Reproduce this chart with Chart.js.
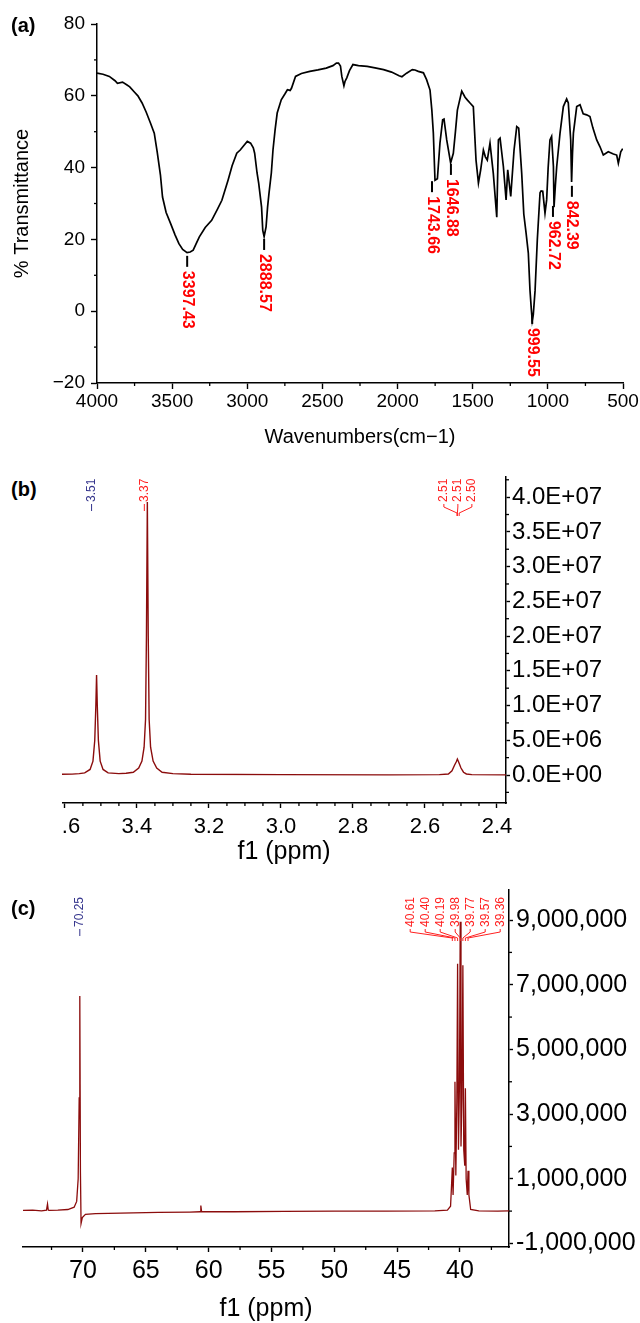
<!DOCTYPE html>
<html>
<head>
<meta charset="utf-8">
<script src="https://cdn.jsdelivr.net/npm/chart.js@4.4.1/dist/chart.umd.min.js"></script>
<style>
  html, body { margin: 0; padding: 0; background: #fff; overflow: hidden; }
  #page { position: relative; width: 640px; height: 1323px; font-family: "Liberation Sans", Arial, sans-serif; }
  canvas { position: absolute; }
  .tag { position: absolute; font-weight: bold; font-size: 20px; line-height: 1; color: #000; }
</style>
</head>
<body>
<div id="page">
  <canvas id="irChart" width="640" height="460" style="left:0;top:0"></canvas>
  <canvas id="hChart" width="578" height="410" style="left:62px;top:460px"></canvas>
  <canvas id="cChart" width="640" height="453" style="left:0;top:870px"></canvas>
  <div class="tag" style="left:11px;top:15px">(a)</div>
  <div class="tag" style="left:11px;top:479px">(b)</div>
  <div class="tag" style="left:11px;top:898px">(c)</div>
</div>
<script>
// ---- Panel (a): FTIR spectrum ----
const irWavenumber = [
  4000, 3960, 3918, 3880, 3864, 3830, 3800, 3782, 3750, 3728,
  3700, 3673, 3645, 3619, 3600, 3578, 3564, 3540, 3510, 3480,
  3455, 3430, 3401, 3380, 3360, 3340, 3319, 3280, 3237, 3200,
  3169, 3128, 3101, 3070, 3047, 3020, 3000, 2978, 2960, 2951,
  2935, 2924, 2905, 2897, 2888, 2875, 2865, 2856, 2840, 2829,
  2815, 2801, 2774, 2750, 2733, 2715, 2706, 2679, 2640, 2584,
  2530, 2475, 2430, 2407, 2393, 2380, 2371, 2357, 2350, 2338,
  2320, 2297, 2260, 2202, 2150, 2093, 2040, 1990, 1971, 1940,
  1902, 1884, 1862, 1828, 1807, 1784, 1772, 1762, 1751, 1735,
  1718, 1700, 1691, 1673, 1647, 1629, 1615, 1602, 1573, 1551,
  1535, 1518, 1496, 1478, 1462, 1447, 1429, 1416, 1403, 1385,
  1363, 1340, 1329, 1318, 1296, 1278, 1267, 1247, 1225, 1207,
  1194, 1174, 1160, 1145, 1130, 1119, 1110, 1104, 1097, 1085,
  1070, 1052, 1045, 1034, 1019, 1008, 998, 986, 975, 963,
  959, 950, 941, 919, 897, 875, 864, 848, 842, 836,
  830, 808, 786, 765, 742, 720, 700, 675, 653, 631,
  598, 564, 542, 531, 515, 502
];
const irTransmittance = [
  66.3, 66.0, 65.4, 64.2, 63.5, 63.8, 63.0, 62.5, 61.0, 60.0,
  58.0, 55.5, 52.5, 49.6, 44.5, 38.0, 31.8, 27.5, 24.4, 21.2,
  18.8, 17.2, 16.3, 16.5, 17.0, 18.8, 20.7, 23.3, 25.3, 28.3,
  30.9, 36.5, 40.5, 44.0, 44.9, 46.3, 47.3, 46.8, 45.5, 44.0,
  38.5, 35.6, 29.0, 22.5, 20.8, 23.5, 29.0, 32.7, 38.5, 44.9,
  50.5, 55.2, 58.9, 60.5, 61.7, 61.5, 62.1, 65.4, 66.2, 66.8,
  67.2, 67.7, 68.4, 69.1, 69.1, 68.3, 65.4, 62.8, 64.0, 65.0,
  67.0, 68.7, 68.4, 68.2, 67.8, 67.3, 66.6, 65.6, 65.3, 66.3,
  67.3, 67.2, 66.8, 66.4, 64.5, 61.6, 56.0, 49.6, 36.5, 36.9,
  46.8, 53.3, 53.5, 47.7, 41.3, 44.0, 50.0, 56.0, 61.3, 59.6,
  58.8, 58.0, 57.0, 42.1, 35.7, 39.4, 44.9, 43.0, 42.1, 46.8,
  38.4, 26.2, 47.7, 48.2, 40.3, 31.0, 39.4, 32.0, 44.9, 51.4,
  51.0, 38.4, 27.0, 21.8, 16.2, 5.9, 0.5, -2.6, -1.0, 5.8,
  20.0, 33.0, 33.5, 33.4, 27.3, 31.0, 40.0, 47.7, 48.7, 40.3,
  29.0, 35.0, 40.3, 49.6, 57.0, 59.1, 58.0, 47.7, 36.0, 44.0,
  49.6, 57.0, 57.5, 55.0, 54.7, 54.2, 51.0, 47.7, 45.8, 43.5,
  44.4, 43.8, 43.5, 41.2, 44.4, 45.3
];
// peak labels: text, and where the marker sits on the curve
const irPeakText = ["3397.43", "2888.57", "1743.66", "1646.88", "999.55", "962.72", "842.39"];
const irPeakWavenumber = [3400, 2888, 1771, 1645, 1104, 966, 840];
const irPeakTransmittance = [15.7, 20.4, 36.5, 41.3, -0.2, 29.6, 35.2];
const irXTicks = [4000, 3500, 3000, 2500, 2000, 1500, 1000, 500];
const irXMinor = [3750, 3250, 2750, 2250, 1750, 1250, 750];
const irYTicks = [80, 60, 40, 20, 0, -20];
const irYMinor = [70, 50, 30, 10, -10];

// ---- Panel (b): 1H NMR ----
const hPpm = [
  3.608, 3.58, 3.56, 3.545, 3.53, 3.522, 3.517, 3.514, 3.512, 3.510,
  3.507, 3.502, 3.494, 3.48, 3.45, 3.43, 3.41, 3.395, 3.386, 3.38,
  3.376, 3.3735, 3.371, 3.3685, 3.366, 3.362, 3.355, 3.345, 3.33, 3.30,
  3.25, 3.0, 2.7, 2.56, 2.535, 2.525, 2.518, 2.513, 2.51, 2.506,
  2.5, 2.493, 2.485, 2.47, 2.375
];
const hIntensity = [
  1e5, 1.2e5, 2e5, 3e5, 8e5, 2e6, 5e6, 1e7, 1.44e7, 1e7,
  5e6, 2e6, 8e5, 3e5, 2e5, 2.5e5, 4e5, 1e6, 2e6, 4e6,
  8e6, 2e7, 3.93e7, 2e7, 8e6, 4e6, 2e6, 1e6, 4e5, 2e5,
  1e5, 5e4, 2e4, 5e4, 1.5e5, 6e5, 1.4e6, 1.9e6, 2.3e6, 1.8e6,
  1e6, 4e5, 1.5e5, 5e4, 2e4
];
const hLabelText = [["3.51"], ["3.37"], ["2.51", "2.51", "2.50"]];
const hLabelPpm = [[3.512], [3.371], [2.511, 2.510, 2.505]];
const hXTicks = [3.6, 3.4, 3.2, 3.0, 2.8, 2.6, 2.4];
const hXMinor = [3.55, 3.5, 3.45, 3.35, 3.3, 3.25, 3.15, 3.1, 3.05, 2.95, 2.9, 2.85,
                 2.75, 2.7, 2.65, 2.55, 2.5, 2.45];
const hYTicks = [0, 5e6, 1e7, 1.5e7, 2e7, 2.5e7, 3e7, 3.5e7, 4e7];
const hYMinor = [-2.5e6, 2.5e6, 7.5e6, 1.25e7, 1.75e7, 2.25e7, 2.75e7, 3.25e7, 3.75e7, 4.25e7];

// ---- Panel (c): 13C NMR ----
const cPpm = [
  74.77, 74.0, 73.3, 72.9, 72.82, 72.76, 72.7, 72.0, 71.2, 70.7,
  70.5, 70.38, 70.3, 70.25, 70.2, 70.15, 70.05, 69.8, 69.0, 67.0,
  64.0, 61.5, 60.68, 60.62, 60.56, 58.0, 54.0, 50.0, 46.0, 42.0,
  41.0, 40.75, 40.66, 40.61, 40.55, 40.46, 40.40, 40.33, 40.25, 40.19,
  40.12, 40.04, 39.98, 39.92, 39.84, 39.77, 39.70, 39.62, 39.57, 39.51,
  39.42, 39.36, 39.29, 39.15, 38.5, 37.0, 36.1
];
const cIntensity = [
  2e4, 3e4, 1e4, 3e4, 2.2e5, 3e4, 2e4, 3e4, 5e4, 1.2e5,
  3e5, 1e6, 3.5e6, 6.65e6, 1.2e6, -3.8e5, -2e5, -1e5, -8e4, -6e4,
  -4e4, -3e4, -2e4, 1.7e5, -2e4, -2e4, -1e4, 0, 0, 1e4,
  3e4, 1.5e5, 9e5, 1.35e6, 5e5, 1.8e6, 4e6, 1.1e6, 3.4e6, 7.65e6,
  1.9e6, 4e6, 8.95e6, 2e6, 3.5e6, 7.6e6, 1.9e6, 1.4e6, 3.8e6, 1e6,
  5e5, 1.25e6, 5e5, 5e4, 1e4, 0, 1e4
];
const cLabelText = [["70.25"], ["40.61", "40.40", "40.19", "39.98", "39.77", "39.57", "39.36"]];
const cLabelPpm = [[70.25], [40.61, 40.40, 40.19, 39.98, 39.77, 39.57, 39.36]];
const cXTicks = [70, 65, 60, 55, 50, 45, 40];
const cXMinor = [72.5, 67.5, 62.5, 57.5, 52.5, 47.5, 42.5, 37.5];
const cYTicks = [-1e6, 1e6, 3e6, 5e6, 7e6, 9e6];
const cYMinor = [0, 2e6, 4e6, 6e6, 8e6];

const FONT = '"Liberation Sans", Arial, sans-serif';
const RED = "#ff2020";
const BLUE = "#34348c";
const SPEC = "#8b0c0c";

function toPoints(xs, ys) {
  return xs.map((x, i) => ({ x: x, y: ys[i] }));
}

// 4.0E+07 style labels
function fmtE(v) {
  if (v === 0) return "0.0E+00";
  const e = Math.floor(Math.log10(Math.abs(v)) + 1e-9);
  const m = v / Math.pow(10, e);
  return m.toFixed(1) + "E+" + String(e).padStart(2, "0");
}

// small unlabeled ticks, placed with the chart's own scales
const minorTicks = {
  id: "minorTicks",
  afterDraw(chart, args, opts) {
    const ctx = chart.ctx, area = chart.chartArea;
    const xs = chart.scales.x, ys = chart.scales.y;
    ctx.save();
    ctx.strokeStyle = "#000";
    ctx.lineWidth = 1.3;
    (opts.x || []).forEach(v => {
      const p = xs.getPixelForValue(v);
      ctx.beginPath();
      ctx.moveTo(p, area.bottom);
      ctx.lineTo(p, area.bottom + opts.len);
      ctx.stroke();
    });
    const left = ys.options.position === "left";
    const x0 = left ? area.left : area.right;
    (opts.y || []).forEach(v => {
      const p = ys.getPixelForValue(v);
      ctx.beginPath();
      ctx.moveTo(x0, p);
      ctx.lineTo(x0 + (left ? -opts.len : opts.len), p);
      ctx.stroke();
    });
    ctx.restore();
  }
};

// red wavenumber labels under the IR bands
const irPeaks = {
  id: "irPeaks",
  afterDatasetsDraw(chart) {
    const ctx = chart.ctx, xs = chart.scales.x, ys = chart.scales.y;
    ctx.save();
    irPeakText.forEach((txt, i) => {
      const px = xs.getPixelForValue(irPeakWavenumber[i]);
      const py = ys.getPixelForValue(irPeakTransmittance[i]);
      ctx.strokeStyle = "#000";
      ctx.lineWidth = 2;
      ctx.beginPath();
      ctx.moveTo(px, py + 1);
      ctx.lineTo(px, py + 12);
      ctx.stroke();
      ctx.save();
      ctx.translate(px, py + 16);
      ctx.rotate(Math.PI / 2);
      ctx.fillStyle = "#ff0000";
      ctx.font = "bold 16px " + FONT;
      ctx.textAlign = "left";
      ctx.textBaseline = "middle";
      ctx.fillText(txt, 0, 0);
      ctx.restore();
    });
    ctx.restore();
  }
};

// NMR peak picking labels (vertical text with connector lines)
const peakLabels = {
  id: "peakLabels",
  afterDatasetsDraw(chart, args, o) {
    const ctx = chart.ctx, xs = chart.scales.x;
    ctx.save();
    o.texts.forEach((texts, g) => {
      const ppms = o.ppms[g];
      const mean = ppms.reduce((a, b) => a + b, 0) / ppms.length;
      const cx = xs.getPixelForValue(mean) + (o.shift ? o.shift[g] : 0);
      ctx.strokeStyle = o.colors[g];
      ctx.fillStyle = o.colors[g];
      ctx.lineWidth = 1;
      texts.forEach((t, i) => {
        const tx = texts.length === 1 ? cx : cx + (i - (texts.length - 1) / 2) * o.spacing;
        const pp = xs.getPixelForValue(ppms[i]);
        ctx.save();
        ctx.translate(tx, o.bottom);
        ctx.rotate(-Math.PI / 2);
        ctx.font = "12px " + FONT;
        ctx.textAlign = "left";
        ctx.textBaseline = "middle";
        ctx.fillText(t, 0, 0);
        ctx.restore();
        ctx.beginPath();
        if (texts.length === 1) {
          ctx.moveTo(tx, o.bottom + 2);
          ctx.lineTo(tx, o.bottom + 9);
        } else {
          ctx.moveTo(tx, o.bottom + 2);
          ctx.lineTo(tx, o.bottom + 5);
          ctx.lineTo(pp, o.bottom + 11);
          ctx.lineTo(pp, o.bottom + 14);
        }
        ctx.stroke();
      });
    });
    ctx.restore();
  }
};

function axisBase(size) {
  return {
    grid: { drawOnChartArea: false, drawTicks: true, tickColor: "#000", tickWidth: 1.4 },
    border: { display: true, color: "#000", width: 1.5 },
    ticks: { color: "#000", autoSkip: false, maxRotation: 0, font: { family: FONT, size: size, lineHeight: 1 } }
  };
}

// ---- (a) IR chart ----
const irX = axisBase(19);
irX.grid.tickLength = 6;
irX.ticks.padding = 3;
irX.ticks.callback = v => String(v);
const irY = axisBase(19);
irY.grid.tickLength = 6;
irY.ticks.padding = 6;
irY.ticks.callback = v => String(v).replace("-", "\u2212");

new Chart(document.getElementById("irChart"), {
  type: "line",
  data: {
    datasets: [{
      data: toPoints(irWavenumber, irTransmittance),
      borderColor: "#000",
      borderWidth: 1.7,
      pointRadius: 0,
      tension: 0
    }]
  },
  options: {
    responsive: false,
    animation: false,
    devicePixelRatio: 1,
    layout: { padding: { left: 0, right: 17, top: 24, bottom: 0 } },
    plugins: {
      legend: { display: false },
      tooltip: { enabled: false },
      minorTicks: { x: irXMinor, y: irYMinor, len: 3 }
    },
    scales: {
      x: Object.assign(irX, {
        type: "linear", reverse: true, min: 500, max: 4000,
        afterBuildTicks: s => { s.ticks = irXTicks.map(v => ({ value: v })); },
        afterFit: s => { s.height = 77; s.paddingLeft = 0; s.paddingRight = 0; },
        title: { display: true, text: "Wavenumbers(cm\u22121)", color: "#000",
                 font: { family: FONT, size: 20, lineHeight: 1 }, padding: { top: 0, bottom: 13 } }
      }),
      y: Object.assign(irY, {
        type: "linear", min: -20, max: 80,
        afterBuildTicks: s => { s.ticks = irYTicks.map(v => ({ value: v })); },
        afterFit: s => { s.width = 97; s.paddingTop = 0; s.paddingBottom = 0; },
        title: { display: true, text: "% Transmittance", color: "#000",
                 font: { family: FONT, size: 20, lineHeight: 1 }, padding: { top: 12, bottom: 0 } }
      })
    }
  },
  plugins: [minorTicks, irPeaks]
});

// ---- (b) 1H NMR chart ----
const hX = axisBase(22);
hX.grid.tickLength = 5;
hX.ticks.padding = 8;
hX.ticks.callback = v => v.toFixed(1);
const hY = axisBase(24);
hY.grid.tickLength = 4;
hY.ticks.padding = 2;
hY.ticks.callback = v => fmtE(v);

new Chart(document.getElementById("hChart"), {
  type: "line",
  data: {
    datasets: [{
      data: toPoints(hPpm, hIntensity),
      borderColor: SPEC,
      borderWidth: 1.4,
      pointRadius: 0,
      tension: 0
    }]
  },
  options: {
    responsive: false,
    animation: false,
    devicePixelRatio: 1,
    layout: { padding: { left: 0, right: 0, top: 17, bottom: 0 } },
    plugins: {
      legend: { display: false },
      tooltip: { enabled: false },
      minorTicks: { x: hXMinor, y: hYMinor, len: 3 },
      peakLabels: { texts: hLabelText, ppms: hLabelPpm, colors: [BLUE, RED, RED], shift: [-5, -3, 0], bottom: 42, spacing: 14 }
    },
    scales: {
      x: Object.assign(hX, {
        type: "linear", reverse: true, min: 2.375, max: 3.608,
        afterBuildTicks: s => { s.ticks = hXTicks.map(v => ({ value: v })); },
        afterFit: s => { s.height = 67; s.paddingLeft = 0; s.paddingRight = 0; },
        title: { display: true, text: "f1 (ppm)", color: "#000",
                 font: { family: FONT, size: 25, lineHeight: 1 }, padding: { top: 0, bottom: 5 } }
      }),
      y: Object.assign(hY, {
        type: "linear", position: "right", min: -4.03e6, max: 4.29e7,
        afterBuildTicks: s => { s.ticks = hYTicks.map(v => ({ value: v })); },
        afterFit: s => { s.width = 134; s.paddingTop = 0; s.paddingBottom = 0; }
      })
    }
  },
  plugins: [minorTicks, peakLabels]
});

// ---- (c) 13C NMR chart ----
const cX = axisBase(25);
cX.grid.tickLength = 5;
cX.ticks.padding = 7;
cX.ticks.callback = v => String(v);
const cY = axisBase(25);
cY.grid.tickLength = 4;
cY.ticks.padding = 3;
cY.ticks.callback = v => v.toLocaleString("en-US");

new Chart(document.getElementById("cChart"), {
  type: "line",
  data: {
    datasets: [{
      data: toPoints(cPpm, cIntensity),
      borderColor: SPEC,
      borderWidth: 1.3,
      pointRadius: 0,
      tension: 0
    }]
  },
  options: {
    responsive: false,
    animation: false,
    devicePixelRatio: 1,
    layout: { padding: { left: 23, right: 0, top: 20, bottom: 0 } },
    plugins: {
      legend: { display: false },
      tooltip: { enabled: false },
      minorTicks: { x: cXMinor, y: cYMinor, len: 3 },
      peakLabels: { texts: cLabelText, ppms: cLabelPpm, colors: [BLUE, RED], shift: [0, -5], bottom: 57, spacing: 15 }
    },
    scales: {
      x: Object.assign(cX, {
        type: "linear", reverse: true, min: 36.1, max: 74.77,
        afterBuildTicks: s => { s.ticks = cXTicks.map(v => ({ value: v })); },
        afterFit: s => { s.height = 76; s.paddingLeft = 0; s.paddingRight = 0; },
        title: { display: true, text: "f1 (ppm)", color: "#000",
                 font: { family: FONT, size: 25, lineHeight: 1 }, padding: { top: 0, bottom: 1 } }
      }),
      y: Object.assign(cY, {
        type: "linear", position: "right", min: -1.11e6, max: 9.93e6,
        afterBuildTicks: s => { s.ticks = cYTicks.map(v => ({ value: v })); },
        afterFit: s => { s.width = 131; s.paddingTop = 0; s.paddingBottom = 0; }
      })
    }
  },
  plugins: [minorTicks, peakLabels]
});
</script>
</body>
</html>
